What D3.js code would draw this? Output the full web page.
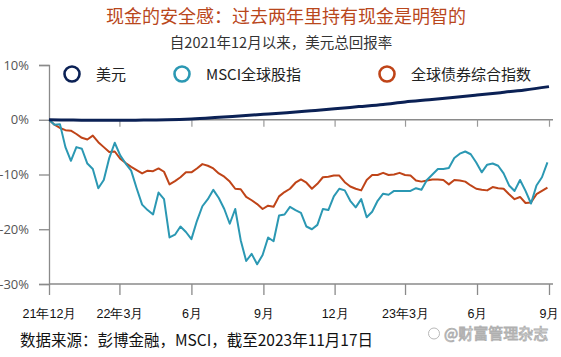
<!DOCTYPE html>
<html><head><meta charset="utf-8">
<script src="https://cdn.jsdelivr.net/npm/d3@7"></script>
<style>
html,body{margin:0;padding:0;background:#fff;}
svg{display:block;font-family:"Noto Sans CJK SC","Noto Sans",sans-serif;}
</style></head>
<body><svg id="c" width="561" height="357"></svg>
<script>
// ---- data ----
const title = "现金的安全感：过去两年里持有现金是明智的";
const subtitle = "自2021年12月以来，美元总回报率";
const source = "数据来源：彭博金融，MSCI，截至2023年11月17日";
const watermark = "@财富管理杂志";
const seriesNames = ["美元", "MSCI全球股指", "全球债券综合指数"];
const seriesColors = ["#0b2155", "#2b98b3", "#bf4418"];
const yTicks = [10, 0, -10, -20, -30];
const xTickDates = ["2021-12-01","2022-03-01","2022-06-01","2022-09-01","2022-12-01","2023-03-01","2023-06-01","2023-09-01"];
const xTickLabels = ["21年12月","22年3月","6月","9月","12月","23年3月","6月","9月"];
const startDate = "2021-12-01", endDate = "2023-09-01";
// USD total return, monthly (%)
const usdValues = [0,-0.05,-0.1,-0.1,-0.05,0,0.15,0.4,0.7,1.0,1.3,1.65,2.0,2.4,2.8,3.25,3.65,4.05,4.5,4.95,5.45,6.05];
// MSCI ACWI, weekly (%)
const msciValues = [0,-0.9,-0.8,-5.0,-7.5,-5.0,-5.3,-8.0,-9.0,-12.5,-11.0,-7.0,-4.2,-6.5,-8.0,-9.3,-12.5,-15.5,-16.5,-17.3,
 -13.3,-14.5,-21.5,-21.0,-19.5,-20.5,-21.8,-18.5,-15.8,-14.5,-12.8,-14.3,-16.3,-19.0,-16.3,-22.0,-25.8,-24.5,-26.4,-24.7,
 -21.5,-22.2,-17.5,-17.3,-15.9,-16.5,-17.0,-19.5,-20.0,-19.2,-16.3,-16.5,-14.0,-12.6,-12.9,-14.8,-16.0,-14.5,-17.8,-16.8,
 -14.8,-13.5,-13.7,-13.0,-13.0,-13.0,-13.0,-12.5,-12.8,-11.0,-10.0,-9.0,-9.0,-8.8,-7.0,-6.2,-5.8,-6.3,-7.8,-9.6,
 -8.2,-8.0,-8.4,-9.8,-12.0,-13.0,-11.0,-13.0,-15.3,-12.0,-10.5,-7.8];
// Global Aggregate Bond, weekly (%)
const bondValues = [0,-0.9,-1.5,-1.9,-2.0,-2.6,-3.3,-3.6,-2.9,-4.1,-5.0,-5.9,-5.8,-7.1,-7.9,-8.6,-9.2,-9.8,-9.3,-9.4,
 -8.9,-9.5,-11.8,-11.2,-10.5,-9.6,-9.6,-8.9,-8.1,-8.4,-8.9,-9.8,-10.4,-11.3,-12.6,-12.7,-14.1,-14.7,-15.4,-16.3,
 -15.7,-15.9,-14.0,-13.2,-12.6,-11.5,-10.9,-11.5,-12.6,-11.7,-10.5,-10.4,-10.2,-10.2,-11.4,-12.2,-12.6,-12.9,-11.0,-10.1,
 -10.1,-9.7,-10.1,-10.0,-9.7,-10.1,-10.2,-11.1,-11.3,-11.1,-10.9,-10.9,-11.0,-11.8,-11.0,-11.1,-11.3,-12.0,-12.6,-12.8,
 -12.9,-12.3,-12.5,-12.6,-13.6,-14.5,-14.1,-15.2,-15.1,-13.6,-13.0,-12.4];

// ---- chart ----
const parse = d3.timeParse("%Y-%m-%d");
const t0 = parse(startDate), t1 = parse(endDate);
const usdDates = usdValues.map((v,i)=>d3.timeMonth.offset(t0,i));
const weekDates = msciValues.map((v,i)=>d3.timeDay.offset(t0,7*i));

const svg = d3.select("#c");
const x = d3.scaleTime().domain([t0,t1]).range([49,549]);
const y = d3.scaleLinear().domain([-30,10]).range([284,65]);

// title
svg.append("text").attr("x",286).attr("y",23).attr("text-anchor","middle")
  .attr("font-size",18).attr("fill","#b9471c").text(title);
svg.append("text").attr("x",281).attr("y",48).attr("text-anchor","middle")
  .attr("font-size",14.5).attr("fill","#333").text(subtitle);

// y axis
const gy = svg.append("g").attr("transform","translate(49,0)")
  .call(d3.axisLeft(y).tickValues(yTicks).tickSize(10).tickPadding(10).tickFormat(d=>d+"%"));
gy.select(".domain").attr("stroke","#8a8a8a").attr("stroke-width",1.3);
gy.selectAll(".tick line").attr("stroke","#8a8a8a").attr("stroke-width",1.3);
gy.selectAll(".tick text").attr("font-size",13).attr("fill","#555")
  .attr("font-family","'Open Sans','Noto Sans',sans-serif");

// x axis at bottom
const gx = svg.append("g").attr("transform","translate(0,284)")
  .call(d3.axisBottom(x).tickValues(xTickDates.map(parse)).tickSize(11).tickSizeOuter(0)
    .tickPadding(14).tickFormat((d,i)=>xTickLabels[i]));
gx.select(".domain").attr("stroke","#8a8a8a").attr("stroke-width",1.3).attr("d","M49,0H553");
gx.selectAll(".tick line").attr("stroke","#8a8a8a").attr("stroke-width",1.3);
gx.selectAll(".tick text").attr("font-size",12.5).attr("fill","#111");

// zero line with small ticks
const gz = svg.append("g").attr("transform","translate(0,"+y(0)+")")
  .call(d3.axisBottom(x).tickValues(xTickDates.map(parse).slice(1)).tickSize(7).tickSizeOuter(0).tickFormat(""));
gz.select(".domain").attr("stroke","#8a8a8a").attr("stroke-width",1.3).attr("d","M49,0H553");
gz.selectAll(".tick line").attr("stroke","#9a9a9a").attr("stroke-width",1.2);

// lines
const line = d3.line().x(d=>x(d[0])).y(d=>y(d[1]));
svg.append("path").datum(weekDates.map((d,i)=>[d,bondValues[i]]))
  .attr("d",line).attr("fill","none").attr("stroke",seriesColors[2]).attr("stroke-width",2).attr("stroke-linejoin","round");
svg.append("path").datum(weekDates.map((d,i)=>[d,msciValues[i]]))
  .attr("d",line).attr("fill","none").attr("stroke",seriesColors[1]).attr("stroke-width",2).attr("stroke-linejoin","round");
svg.append("path").datum(usdDates.map((d,i)=>[d,usdValues[i]]))
  .attr("d",line.curve(d3.curveMonotoneX)).attr("fill","none").attr("stroke",seriesColors[0]).attr("stroke-width",3);

// legend
const legX = [72,182,387];
seriesNames.forEach((n,i)=>{
  svg.append("circle").attr("cx",legX[i]).attr("cy",74).attr("r",7.5)
    .attr("fill","none").attr("stroke",seriesColors[i]).attr("stroke-width",2.6);
  svg.append("text").attr("x",legX[i]+24).attr("y",79.5).attr("font-size",15).attr("fill","#222").text(n);
});

// footer
svg.append("text").attr("x",20).attr("y",346).attr("font-size",15.5).attr("fill","#111").text(source);
svg.append("text").attr("x",444).attr("y",339).attr("font-size",15).attr("fill","#fff")
  .attr("stroke","#b0b0b0").attr("stroke-width",0.9).text(watermark);
svg.append("circle").attr("cx",434).attr("cy",333.5).attr("r",5.5).attr("fill","#fff").attr("stroke","#b0b0b0").attr("stroke-width",0.9);
</script></body></html>
